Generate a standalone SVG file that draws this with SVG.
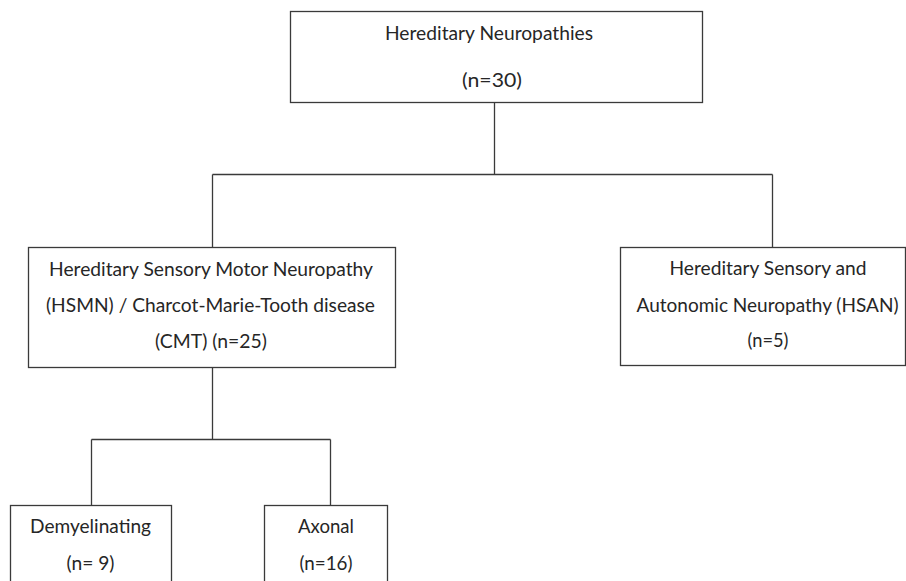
<svg xmlns="http://www.w3.org/2000/svg" width="906" height="581" viewBox="0 0 906 581">
<style>
  .box { fill: #ffffff; stroke: #3a3a3a; stroke-width: 1.3; }
  .conn { fill: none; stroke: #3a3a3a; stroke-width: 1.3; }
  text { font-family: Lato, "Open Sans", "Liberation Sans", sans-serif; font-size: 18.5px; fill: #262626; text-anchor: middle; }
</style>
<rect width="906" height="581" fill="#ffffff"/>
<g id="connectors">
  <path class="conn" d="M494.5,102.5 V174.5 M212.5,174.5 H772.5 M212.5,174.5 V247.5 M772.5,174.5 V247.5"/>
  <path class="conn" d="M212.5,367.5 V439.5 M91.5,439.5 H330.5 M91.5,439.5 V505.5 M330.5,439.5 V505.5"/>
</g>
<g id="node-root">
  <rect class="box" x="290.5" y="11.5" width="412" height="91"/>
  <text x="489" y="40" textLength="208" lengthAdjust="spacingAndGlyphs">Hereditary Neuropathies</text>
  <text x="492" y="87" textLength="60" lengthAdjust="spacingAndGlyphs">(n=30)</text>
</g>
<g id="node-hsmn">
  <rect class="box" x="28.5" y="247.5" width="367" height="120"/>
  <text x="211" y="276" textLength="324" lengthAdjust="spacingAndGlyphs">Hereditary Sensory Motor Neuropathy</text>
  <text x="210.5" y="312" textLength="329" lengthAdjust="spacingAndGlyphs">(HSMN) / Charcot-Marie-Tooth disease</text>
  <text x="211" y="348" textLength="112" lengthAdjust="spacingAndGlyphs">(CMT) (n=25)</text>
</g>
<g id="node-hsan">
  <rect class="box" x="620.5" y="247.5" width="285" height="118"/>
  <text x="768" y="275" textLength="197" lengthAdjust="spacingAndGlyphs">Hereditary Sensory and</text>
  <text x="767.5" y="311.5" textLength="262" lengthAdjust="spacingAndGlyphs">Autonomic Neuropathy (HSAN)</text>
  <text x="768" y="346.5" textLength="41" lengthAdjust="spacingAndGlyphs">(n=5)</text>
</g>
<g id="node-demyelinating">
  <rect class="box" x="10.5" y="505.5" width="161" height="90"/>
  <text x="90.5" y="533" textLength="121" lengthAdjust="spacingAndGlyphs">Demyelinating</text>
  <text x="90.5" y="570" textLength="48" lengthAdjust="spacingAndGlyphs">(n= 9)</text>
</g>
<g id="node-axonal">
  <rect class="box" x="264.5" y="505.5" width="123" height="90"/>
  <text x="326" y="533" textLength="56" lengthAdjust="spacingAndGlyphs">Axonal</text>
  <text x="326" y="570" textLength="53" lengthAdjust="spacingAndGlyphs">(n=16)</text>
</g>
</svg>
